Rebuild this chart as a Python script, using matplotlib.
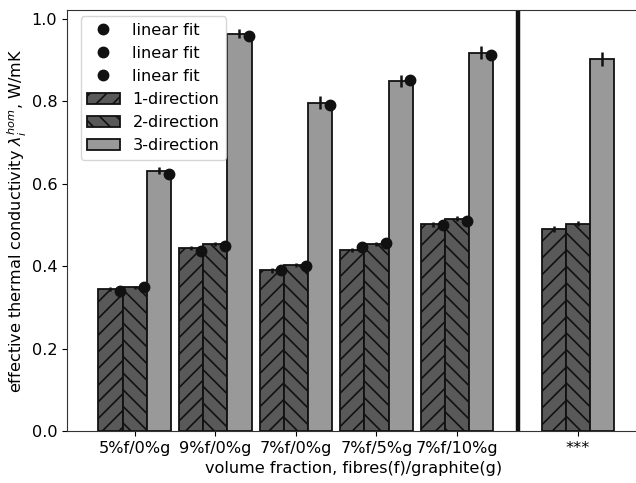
import numpy as np
import matplotlib.pyplot as plt

plt.rcParams['font.size'] = 11.6
plt.rcParams['hatch.linewidth'] = 1.2

groups = ['5%f/0%g', '9%f/0%g', '7%f/0%g', '7%f/5%g', '7%f/10%g', '***']
xpos = np.array([0, 1, 2, 3, 4, 5.5])

# measured conductivities per direction
dir1 = [0.345, 0.444, 0.390, 0.440, 0.502, 0.490]
dir2 = [0.349, 0.454, 0.404, 0.454, 0.515, 0.503]
dir3 = [0.632, 0.964, 0.797, 0.850, 0.918, 0.903]
err1 = [0.004, 0.005, 0.006, 0.005, 0.006, 0.007]
err2 = [0.004, 0.005, 0.005, 0.005, 0.006, 0.006]
err3 = [0.008, 0.011, 0.016, 0.014, 0.016, 0.016]

# linear fit values (only for the first five mixtures)
fit1 = [0.341, 0.438, 0.391, 0.446, 0.501]
fit2 = [0.349, 0.450, 0.401, 0.456, 0.509]
fit3 = [0.624, 0.959, 0.791, 0.852, 0.913]

w = 0.3
fig = plt.figure(figsize=(6.36, 4.83), dpi=100)
ax = fig.add_axes([0.1053, 0.1077, 0.901, 0.8716])

ekw = dict(elinewidth=1.8, ecolor='#111111')
ax.bar(xpos - w, dir1, w, yerr=err1, color='0.35', edgecolor='#111111', linewidth=1.3,
       hatch='//', error_kw=ekw, label='1-direction')
ax.bar(xpos, dir2, w, yerr=err2, color='0.35', edgecolor='#111111', linewidth=1.3,
       hatch='\\\\', error_kw=ekw, label='2-direction')
ax.bar(xpos + w, dir3, w, yerr=err3, color='0.6', edgecolor='#111111', linewidth=1.3,
       error_kw=ekw, label='3-direction')

off = 0.12
ax.plot(xpos[:5] - w + off, fit1, 'o', color='#111111', ms=7.5, label='linear fit')
ax.plot(xpos[:5] + off, fit2, 'o', color='#111111', ms=7.5, label='linear fit')
ax.plot(xpos[:5] + w + off, fit3, 'o', color='#111111', ms=7.5, label='linear fit')

ax.axvline(4.75, color='#111111', linewidth=3.2)

ax.set_xticks(xpos)
ax.set_xticklabels(groups)
ax.set_xlim(-0.84, 6.27)
ax.set_ylim(0, 1.022)
ax.set_xlabel('volume fraction, fibres(f)/graphite(g)')
ax.set_ylabel(r'effective thermal conductivity $\lambda_i^{hom}$, W/mK', labelpad=2)
for s in ax.spines.values():
    s.set_color('#333333')
ax.legend(loc='upper left', bbox_to_anchor=(0.013, 1.0), borderaxespad=0.4)

fig.savefig('out.png', dpi=100)
